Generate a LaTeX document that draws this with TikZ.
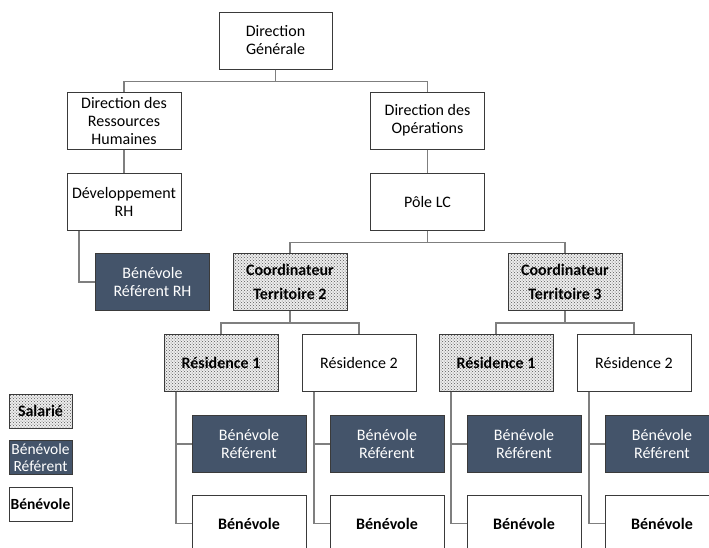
\documentclass[tikz,border=0pt]{standalone}
\usepackage{fontspec}
\setmainfont{Carlito}
\usetikzlibrary{patterns}
\definecolor{darkblue}{HTML}{44546A}
\definecolor{boxline}{HTML}{3A3A3A}
\definecolor{conn}{HTML}{7F7F7F}
\tikzset{
  box/.style={draw=boxline, line width=1pt, minimum width=114pt, minimum height=57pt, inner sep=0pt, align=center, font=\fontsize{16}{18}\selectfont, fill=white},
  sal/.style={box, preaction={fill=gray!14}, pattern=crosshatch dots, pattern color=gray!70!black, font=\fontsize{16}{18}\selectfont\bfseries},
  bref/.style={box, fill=darkblue, text=white},
  ben/.style={box, font=\fontsize{16}{18}\selectfont\bfseries},
  leg/.style={minimum width=63pt, minimum height=34pt},
  conn/.style={draw=conn, line width=1.2pt},
}
\begin{document}
\begin{tikzpicture}[x=1pt,y=-1pt]
\useasboundingbox (0,0) rectangle (709,547);
% level nodes
\node[box, minimum width=113pt] (DG) at (275.5,40.5) {Direction\\Générale};
\node[box] (DRH) at (124,120.5) {Direction des\\Ressources\\Humaines};
\node[box] (DO) at (427.5,120.5) {Direction des\\Opérations};
\node[box] (DEV) at (124,201.5) {Développement\\RH};
\node[box] (PLC) at (427.5,201.5) {Pôle LC};
\node[bref] (BRRH) at (152.5,282) {Bénévole\\Référent RH};
\node[sal] (CT2) at (290,282) {Coordinateur\\[6pt]Territoire 2};
\node[sal] (CT3) at (565,282) {Coordinateur\\[6pt]Territoire 3};
\node[sal] (R1a) at (221,362.5) {Résidence 1};
\node[box] (R2a) at (359,362.5) {Résidence 2};
\node[sal] (R1b) at (496,362.5) {Résidence 1};
\node[box] (R2b) at (634,362.5) {Résidence 2};
\node[bref] (BR1a) at (249,444) {Bénévole\\Référent};
\node[bref] (BR2a) at (387,444) {Bénévole\\Référent};
\node[bref] (BR1b) at (524,444) {Bénévole\\Référent};
\node[bref] (BR2b) at (662,444) {Bénévole\\Référent};
\node[ben] (B1a) at (249,523.5) {Bénévole};
\node[ben] (B2a) at (387,523.5) {Bénévole};
\node[ben] (B1b) at (524,523.5) {Bénévole};
\node[ben] (B2b) at (662,523.5) {Bénévole};
% legend
\node[sal, leg] (LS) at (40.5,411) {Salarié};
\node[bref, leg, font=\fontsize{15.5}{17.5}\selectfont] (LBR) at (40.5,457.5) {Bénévole\\Référent};
\node[ben, leg, font=\fontsize{15.5}{17.5}\selectfont\bfseries] (LB) at (40.5,504) {Bénévole};
% connectors
\draw[conn] (DG.south) -- ++(0,12) -| (DRH.north);
\draw[conn] (DG.south) -- ++(0,12) -| (DO.north);
\draw[conn] (DRH.south) -- (DEV.north);
\draw[conn] (DO.south) -- (PLC.north);
\draw[conn] ([xshift=-45pt]DEV.south) |- (BRRH.west);
\draw[conn] (PLC.south) -- ++(0,12) -| (CT2.north);
\draw[conn] (PLC.south) -- ++(0,12) -| (CT3.north);
\draw[conn] (CT2.south) -- ++(0,12) -| (R1a.north);
\draw[conn] (CT2.south) -- ++(0,12) -| (R2a.north);
\draw[conn] (CT3.south) -- ++(0,12) -| (R1b.north);
\draw[conn] (CT3.south) -- ++(0,12) -| (R2b.north);
\foreach \r/\a/\b in {R1a/BR1a/B1a, R2a/BR2a/B2a, R1b/BR1b/B1b, R2b/BR2b/B2b}{
  \draw[conn] ([xshift=-45pt]\r.south) |- (\a.west);
  \draw[conn] ([xshift=-45pt]\r.south) |- (\b.west);
}
\end{tikzpicture}
\end{document}
